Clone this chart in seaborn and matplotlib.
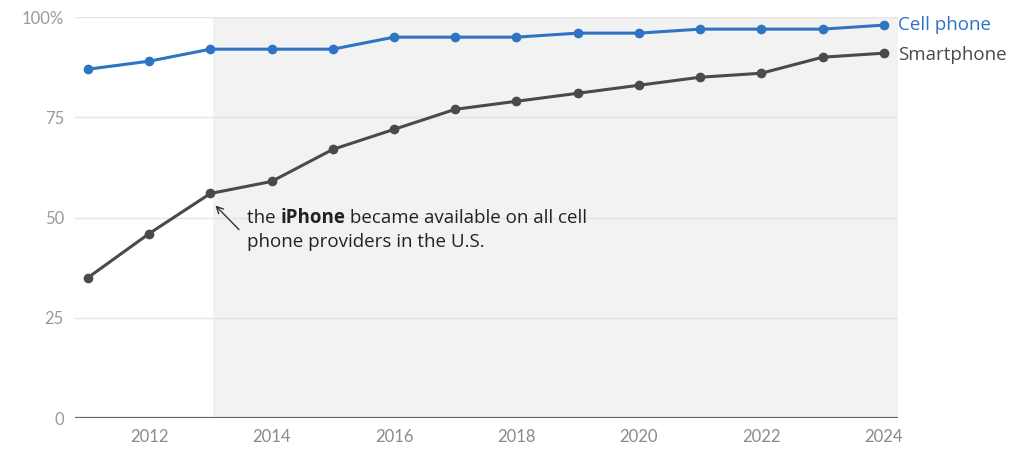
import matplotlib
matplotlib.use("Agg")
import matplotlib.pyplot as plt
import seaborn as sns
import pandas as pd

years = list(range(2011, 2025))
cell_phone = [87, 89, 92, 92, 92, 95, 95, 95, 96, 96, 97, 97, 97, 98]
smartphone = [35, 46, 56, 59, 67, 72, 77, 79, 81, 83, 85, 86, 90, 91]
y_ticks = [0, 25, 50, 75, 100]
y_labels = ["0", "25", "50", "75", "100%"]
x_ticks = [2012, 2014, 2016, 2018, 2020, 2022, 2024]
series_names = ["Cell phone", "Smartphone"]
shade_start = 2013

sns.set_theme(style="white")
plt.rcParams["font.family"] = ["Lato", "DejaVu Sans"]

BLUE = "#2f73c3"
DARK = "#4a4a4a"
ANNO_FONT = ["Open Sans", "DejaVu Sans"]

df = pd.DataFrame({"year": years * 2,
                   "value": cell_phone + smartphone,
                   "series": [series_names[0]] * len(years) + [series_names[1]] * len(years)})

fig = plt.figure(figsize=(10.1, 4.5), dpi=100)
ax = fig.add_axes([0.0743, 0.0711, 0.8147, 0.8909])

xmin, xmax = 2010.79, 2024.23
ax.axvspan(shade_start + 0.04, xmax, ymin=0, ymax=1, color="#f2f2f2", zorder=0, lw=0)

sns.lineplot(data=df, x="year", y="value", hue="series", palette=[BLUE, DARK],
             marker="o", markersize=7, markeredgewidth=0, linewidth=2.2,
             legend=False, ax=ax, zorder=3)

ax.set_xlim(xmin, xmax)
ax.set_ylim(0, 100)
ax.set_yticks(y_ticks)
ax.set_yticklabels(y_labels)
ax.set_xticks(x_ticks)
ax.set_xticklabels([str(x) for x in x_ticks])
ax.set_xlabel("")
ax.set_ylabel("")
for y in y_ticks[1:]:
    ax.axhline(y, color="#e4e4e4", lw=1, zorder=1)
ax.axhline(0, color="#666666", lw=1.6, zorder=2)
for s in ax.spines.values():
    s.set_visible(False)
ax.tick_params(axis="y", length=0, pad=8, labelsize=12, labelcolor="#9a9a9a")
ax.tick_params(axis="x", length=0, pad=8, labelsize=12, labelcolor="#8a8a8a")
ax.set_facecolor("none")

# end labels
ax.annotate(series_names[0], xy=(years[-1], cell_phone[-1]), xytext=(10, 0),
            textcoords="offset points", va="center", ha="left", color=BLUE,
            fontsize=13.5, family=ANNO_FONT, annotation_clip=False)
ax.annotate(series_names[1], xy=(years[-1], smartphone[-1]), xytext=(10, -1),
            textcoords="offset points", va="center", ha="left", color=DARK,
            fontsize=13.5, family=ANNO_FONT, annotation_clip=False)

# annotation arrow
ax.annotate("", xy=(2013.05, 53.5), xytext=(2013.5, 46.5),
            arrowprops=dict(arrowstyle="->", color="#333333", lw=1.0), zorder=4)

# mixed bold annotation text
fig.canvas.draw()
renderer = fig.canvas.get_renderer()
fs = 13.5
x0, y0 = 2013.6, 49.8
t1 = ax.text(x0, y0, "the ", fontsize=fs, color="#222222", va="center", ha="left", family=ANNO_FONT)
bb = t1.get_window_extent(renderer)
inv = ax.transData.inverted()
xb = inv.transform((bb.x1, bb.y0))[0]
t2 = ax.text(xb, y0, "iPhone", fontsize=fs, color="#222222", fontweight="bold", va="center", ha="left", family=ANNO_FONT)
bb2 = t2.get_window_extent(renderer)
xc = inv.transform((bb2.x1, bb2.y0))[0]
ax.text(xc, y0, " became available on all cell", fontsize=fs, color="#222222", va="center", ha="left", family=ANNO_FONT)
ax.text(x0, y0 - 6.0, "phone providers in the U.S.", fontsize=fs, color="#222222", va="center", ha="left", family=ANNO_FONT)

fig.savefig("out.png", dpi=100)
